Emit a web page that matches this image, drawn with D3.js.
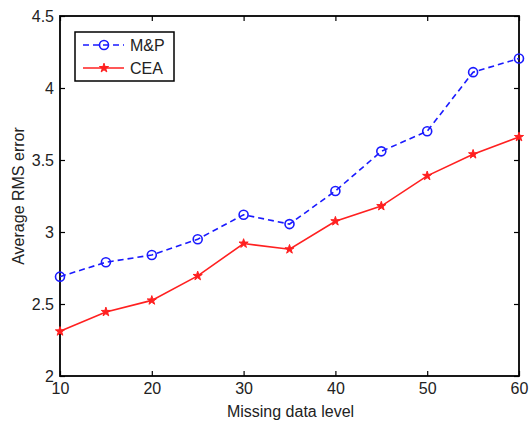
<!DOCTYPE html>
<html><head><meta charset="utf-8">
<script src="https://cdn.jsdelivr.net/npm/d3@7"></script>
<style>body{margin:0;background:#fff;}svg{display:block;font-family:"Liberation Sans",Arial,Helvetica,sans-serif;}</style>
</head><body>
<svg id="c" width="529" height="422"></svg>
<script>
const missingLevels = [10, 15, 20, 25, 30, 35, 40, 45, 50, 55, 60];
const mpValues  = [2.69, 2.79, 2.84, 2.95, 3.12, 3.055, 3.285, 3.56, 3.70, 4.11, 4.205];
const ceaValues = [2.31, 2.445, 2.525, 2.695, 2.92, 2.88, 3.075, 3.18, 3.39, 3.54, 3.66];
const xTicks = [10, 20, 30, 40, 50, 60];
const yTicks = [2, 2.5, 3, 3.5, 4, 4.5];
const seriesNames = ["M&P", "CEA"];

const svg = d3.select("#c");
const L = 60, R = 519, T = 16, B = 376;
const x = d3.scaleLinear().domain([10, 60]).range([L, R]);
const y = d3.scaleLinear().domain([2, 4.5]).range([B, T]);
const FS = 16;

const fmtY = d => d3.format("~g")(d);
const styleAxis = g => { g.select(".domain").remove(); g.selectAll("text").attr("font-size", FS).attr("fill","#222"); g.selectAll("line").attr("stroke","#000").attr("stroke-width",1.2); };
svg.append("g").attr("transform", `translate(0,${B})`)
  .call(d3.axisBottom(x).tickValues(xTicks).tickSizeInner(-5).tickSizeOuter(0).tickPadding(7))
  .call(styleAxis);
svg.append("g").attr("transform", `translate(0,${T})`)
  .call(d3.axisTop(x).tickValues(xTicks).tickSizeInner(-5).tickSizeOuter(0).tickFormat(""))
  .call(styleAxis);
svg.append("g").attr("transform", `translate(${L},0)`)
  .call(d3.axisLeft(y).tickValues(yTicks).tickFormat(fmtY).tickSizeInner(-5).tickSizeOuter(0).tickPadding(6))
  .call(styleAxis);
svg.append("g").attr("transform", `translate(${R},0)`)
  .call(d3.axisRight(y).tickValues(yTicks).tickSizeInner(-5).tickSizeOuter(0).tickFormat(""))
  .call(styleAxis);

svg.append("rect").attr("x", L).attr("y", T).attr("width", R - L).attr("height", B - T)
  .attr("fill", "none").attr("stroke", "#000").attr("stroke-width", 1.8);

const line = d3.line().x((d, i) => x(missingLevels[i])).y(d => y(d));
const blue = "#1a1aff", red = "#ff2020";

// M&P
svg.append("path").datum(mpValues).attr("d", line)
  .attr("fill", "none").attr("stroke", blue).attr("stroke-width", 1.6).attr("stroke-dasharray", "6,4");
svg.append("g").selectAll("circle").data(mpValues).join("circle")
  .attr("cx", (d, i) => x(missingLevels[i])).attr("cy", d => y(d)).attr("r", 4.5)
  .attr("fill", "none").attr("stroke", blue).attr("stroke-width", 1.6);

// CEA
svg.append("path").datum(ceaValues).attr("d", line)
  .attr("fill", "none").attr("stroke", red).attr("stroke-width", 1.6);
const star = d3.symbol().type(d3.symbolStar).size(26);
svg.append("g").selectAll("path").data(ceaValues).join("path")
  .attr("transform", (d, i) => `translate(${x(missingLevels[i])},${y(d)})`)
  .attr("d", star).attr("fill", red).attr("stroke", red).attr("stroke-width", 1);

// axis titles
svg.append("text").attr("x", (L + R) / 2 + 1).attr("y", 417).attr("text-anchor", "middle")
  .attr("font-size", FS).attr("fill", "#222").text("Missing data level");
svg.append("text").attr("transform", `translate(24,${(T + B) / 2}) rotate(-90)`).attr("text-anchor", "middle")
  .attr("font-size", FS).attr("fill", "#222").text("Average RMS error");

// legend
const lg = svg.append("g");
lg.append("rect").attr("x", 75).attr("y", 32).attr("width", 99).attr("height", 49)
  .attr("fill", "#fff").attr("stroke", "#000").attr("stroke-width", 1.5);
lg.append("line").attr("x1", 83).attr("x2", 124).attr("y1", 45).attr("y2", 45)
  .attr("stroke", blue).attr("stroke-width", 1.6).attr("stroke-dasharray", "6,4");
lg.append("circle").attr("cx", 104).attr("cy", 45).attr("r", 4.5).attr("fill", "none").attr("stroke", blue).attr("stroke-width", 1.6);
lg.append("text").attr("x", 130).attr("y", 51).attr("font-size", FS).attr("fill", "#222").text(seriesNames[0]);
lg.append("line").attr("x1", 83).attr("x2", 124).attr("y1", 68).attr("y2", 68)
  .attr("stroke", red).attr("stroke-width", 1.6);
lg.append("path").attr("transform", "translate(104,68)").attr("d", star).attr("fill", red).attr("stroke", red).attr("stroke-width", 1);
lg.append("text").attr("x", 130).attr("y", 74).attr("font-size", FS).attr("fill", "#222").text(seriesNames[1]);
</script>
</body></html>
